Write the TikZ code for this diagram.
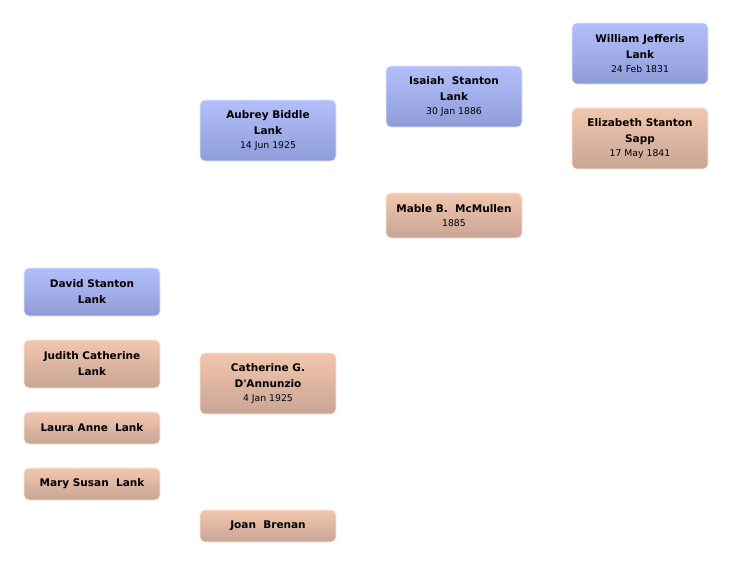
\documentclass[tikz,border=0pt]{standalone}
\usepackage{fontspec}
\setmainfont{DejaVu Sans}
\usepackage{tikz}
\definecolor{maletop}{HTML}{B3BFFB}
\definecolor{malebot}{HTML}{8E9CD8}
\definecolor{femtop}{HTML}{F2C6AE}
\definecolor{fembot}{HTML}{C8A595}
\tikzset{every node/.style={font=\fontsize{10.5}{16}\selectfont\bfseries},
person/.style={rounded corners=5pt, minimum width=136pt, align=center, inner sep=0pt, line width=0.6pt},
male/.style={person, top color=maletop, bottom color=malebot, draw=maletop!40!white},
female/.style={person, top color=femtop, bottom color=fembot, draw=femtop!40!white}}
\newcommand{\born}[1]{\\[-2pt]{\fontsize{9.3}{12}\selectfont\mdseries #1}}

\begin{document}
\begin{tikzpicture}[x=1pt, y=-1pt]
      \useasboundingbox (0,0) rectangle (732,566);
      % children
      \node[male, minimum height=48pt] (david) at (92,292) {David Stanton\\Lank};
      \node[female, minimum height=48pt] (judith) at (92,364) {Judith Catherine\\Lank};
      \node[female, minimum height=32pt] (laura) at (92,428) {Laura Anne\ \ Lank};
      \node[female, minimum height=32pt] (mary) at (92,484) {Mary Susan\ \ Lank};

      % parents
      \node[male, minimum height=61pt] (aubrey) at (268,130.5) {Aubrey Biddle\\Lank\born{14 Jun 1925}};
      \node[female, minimum height=61pt] (catherine) at (268,383.5) {Catherine G.\\D\textquotesingle Annunzio\born{4 Jan 1925}};
      \node[female, minimum height=32pt] (joan) at (268,526) {Joan\ \ Brenan};

      % grandparents
      \node[male, minimum height=61pt] (isaiah) at (454,96.5) {Isaiah\ \ Stanton\\Lank\born{30 Jan 1886}};
      \node[female, minimum height=45pt] (mable) at (454,215.5) {Mable B.\ \ McMullen\born{1885}};

      % great-grandparents
      \node[male, minimum height=61pt] (william) at (640,53.5) {William Jefferis\\Lank\born{24 Feb 1831}};
      \node[female, minimum height=61pt] (elizabeth) at (640,138.5) {Elizabeth Stanton\\Sapp\born{17 May 1841}};
\end{tikzpicture}
\end{document}
